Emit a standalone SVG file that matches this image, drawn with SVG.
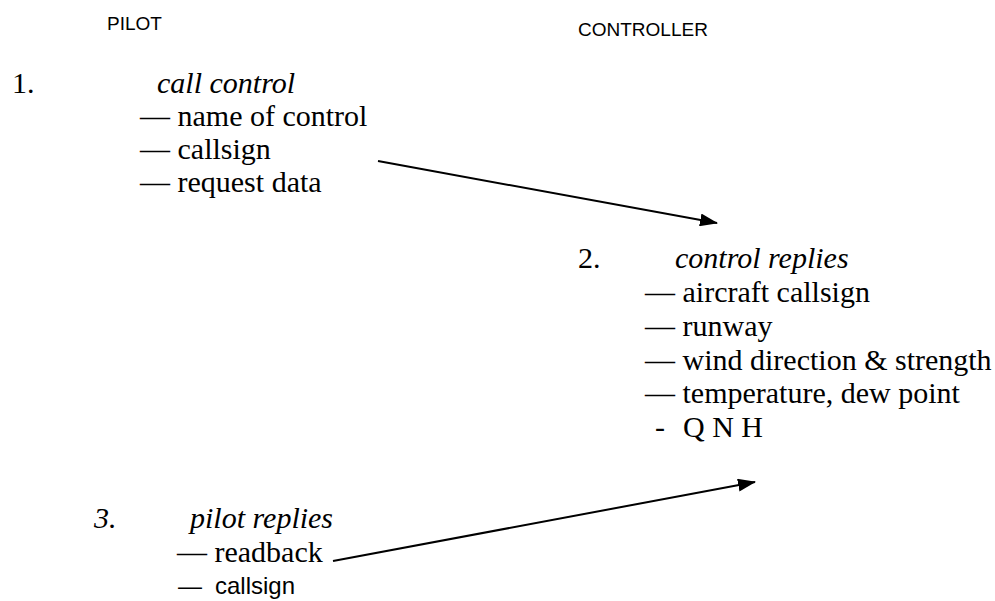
<svg xmlns="http://www.w3.org/2000/svg" width="995" height="601" viewBox="0 0 995 601">
<style>
.s{font-family:"Liberation Sans",Arial,sans-serif;fill:#000}
.t{font-family:"Liberation Serif","Times New Roman",serif;font-size:30px;fill:#000}
.i{font-style:italic}
.c{stroke:#000;stroke-width:2;fill:none}
</style>
<defs>
<marker id="ah" markerWidth="18" markerHeight="13" refX="17" refY="6.5" orient="auto" markerUnits="userSpaceOnUse" viewBox="0 0 18 13">
<path d="M0,0 L18,6.5 L0,13 Z" fill="#000"/>
</marker>
</defs>
<rect width="995" height="601" fill="#fff"/>
<g id="headers">
<text class="s" x="107" y="30" font-size="19">PILOT</text>
<text class="s" x="578" y="36" font-size="19">CONTROLLER</text>
</g>
<g id="step1">
<text class="t" x="12" y="93">1.</text>
<text class="t i" x="157" y="93">call control</text>
<text class="t" x="140" y="126">— name of control</text>
<text class="t" x="140" y="159">— callsign</text>
<text class="t" x="140" y="192">— request data</text>
</g>
<g id="step2">
<text class="t" x="578" y="268">2.</text>
<text class="t i" x="675" y="268">control replies</text>
<text class="t" x="645" y="302">— aircraft callsign</text>
<text class="t" x="645" y="336">— runway</text>
<text class="t" x="645" y="370">— wind direction &amp; strength</text>
<text class="t" x="645" y="403">— temperature, dew point</text>
<text class="t" x="655" y="437">-</text>
<text class="t" x="683" y="437">Q N H</text>
</g>
<g id="step3">
<text class="t i" x="94" y="528">3.</text>
<text class="t i" x="190" y="528">pilot replies</text>
<text class="t" x="177" y="562">— readback</text>
<text class="s" x="178" y="594" font-size="24">—<tspan x="215">callsign</tspan></text>
</g>
<g id="connectors">
<line class="c" x1="378" y1="161" x2="717" y2="223" marker-end="url(#ah)"/>
<line class="c" x1="333" y1="561" x2="755" y2="482" marker-end="url(#ah)"/>
</g>
</svg>
